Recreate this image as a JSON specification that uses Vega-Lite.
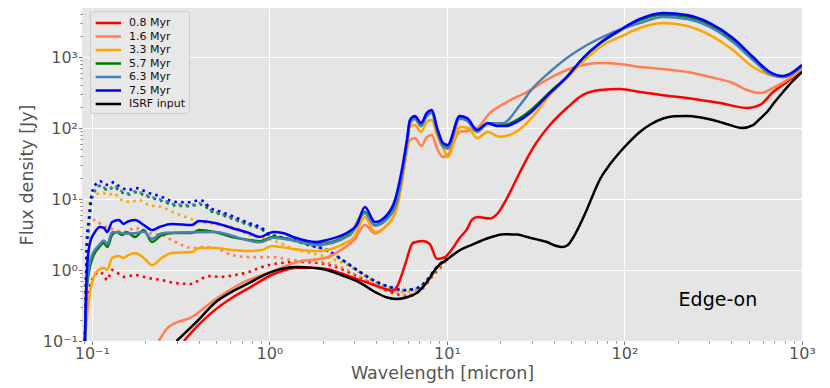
{
"$schema":"https://vega.github.io/schema/vega-lite/v6.json",
"width":720,"height":333,
"autosize":{"type":"none"},
"padding":{"left":82,"top":8,"right":28,"bottom":47},
"background":"white",
"config":{"view":{"fill":"#E5E5E5","stroke":null},"font":"DejaVu Sans"},
"datasets":{
"solid":[
{"s":"0.8 Myr","x":0.33,"y":0.1},{"s":"0.8 Myr","x":0.40,"y":0.17},{"s":"0.8 Myr","x":0.49,"y":0.27},{"s":"0.8 Myr","x":0.62,"y":0.41},{"s":"0.8 Myr","x":0.77,"y":0.56},{"s":"0.8 Myr","x":1.03,"y":0.85},{"s":"0.8 Myr","x":1.2,"y":0.98},{"s":"0.8 Myr","x":1.43,"y":1.08},{"s":"0.8 Myr","x":1.7,"y":1.08},{"s":"0.8 Myr","x":2.1,"y":1.03},{"s":"0.8 Myr","x":2.6,"y":0.88},{"s":"0.8 Myr","x":3.24,"y":0.72},{"s":"0.8 Myr","x":4.0,"y":0.6},{"s":"0.8 Myr","x":4.6,"y":0.53},{"s":"0.8 Myr","x":4.9,"y":0.51},{"s":"0.8 Myr","x":5.23,"y":0.58},{"s":"0.8 Myr","x":5.8,"y":1.17},{"s":"0.8 Myr","x":6.43,"y":2.4},{"s":"0.8 Myr","x":7.33,"y":2.56},{"s":"0.8 Myr","x":8.0,"y":2.32},{"s":"0.8 Myr","x":8.8,"y":1.43},{"s":"0.8 Myr","x":9.75,"y":1.52},{"s":"0.8 Myr","x":10.5,"y":1.85},{"s":"0.8 Myr","x":11.8,"y":2.83},{"s":"0.8 Myr","x":13,"y":3.8},{"s":"0.8 Myr","x":13.8,"y":5.06},{"s":"0.8 Myr","x":14.8,"y":5.6},{"s":"0.8 Myr","x":17.5,"y":5.3},{"s":"0.8 Myr","x":19.4,"y":6.35},{"s":"0.8 Myr","x":21.8,"y":10.3},{"s":"0.8 Myr","x":25.8,"y":24},{"s":"0.8 Myr","x":30.5,"y":52},{"s":"0.8 Myr","x":38,"y":110},{"s":"0.8 Myr","x":47.4,"y":191},{"s":"0.8 Myr","x":58.4,"y":292},{"s":"0.8 Myr","x":72.8,"y":343},{"s":"0.8 Myr","x":94.4,"y":354},{"s":"0.8 Myr","x":122,"y":321},{"s":"0.8 Myr","x":165,"y":290},{"s":"0.8 Myr","x":225,"y":265},{"s":"0.8 Myr","x":345,"y":225},{"s":"0.8 Myr","x":497,"y":191},{"s":"0.8 Myr","x":580,"y":211},{"s":"0.8 Myr","x":687,"y":321},{"s":"0.8 Myr","x":823,"y":445},{"s":"0.8 Myr","x":1000,"y":656},
{"s":"1.6 Myr","x":0.238,"y":0.1},{"s":"1.6 Myr","x":0.27,"y":0.157},{"s":"1.6 Myr","x":0.366,"y":0.218},{"s":"1.6 Myr","x":0.49,"y":0.378},{"s":"1.6 Myr","x":0.70,"y":0.656},{"s":"1.6 Myr","x":1.03,"y":0.95},{"s":"1.6 Myr","x":1.4,"y":1.28},{"s":"1.6 Myr","x":2.1,"y":1.5},{"s":"1.6 Myr","x":2.6,"y":2.0},{"s":"1.6 Myr","x":3.0,"y":2.65},{"s":"1.6 Myr","x":3.45,"y":4.3},{"s":"1.6 Myr","x":3.93,"y":3.3},{"s":"1.6 Myr","x":4.47,"y":4.0},{"s":"1.6 Myr","x":5.1,"y":6.4},{"s":"1.6 Myr","x":5.6,"y":20},{"s":"1.6 Myr","x":6.19,"y":68},{"s":"1.6 Myr","x":6.6,"y":72},{"s":"1.6 Myr","x":7.2,"y":56},{"s":"1.6 Myr","x":7.71,"y":75},{"s":"1.6 Myr","x":8.23,"y":80},{"s":"1.6 Myr","x":8.78,"y":52},{"s":"1.6 Myr","x":9.5,"y":39},{"s":"1.6 Myr","x":10.1,"y":42},{"s":"1.6 Myr","x":11.8,"y":88},{"s":"1.6 Myr","x":13,"y":91},{"s":"1.6 Myr","x":14.8,"y":100},{"s":"1.6 Myr","x":17.5,"y":163},{"s":"1.6 Myr","x":21.8,"y":232},{"s":"1.6 Myr","x":28.2,"y":321},{"s":"1.6 Myr","x":36.4,"y":474},{"s":"1.6 Myr","x":47.4,"y":656},{"s":"1.6 Myr","x":58.4,"y":771},{"s":"1.6 Myr","x":72.8,"y":822},{"s":"1.6 Myr","x":94.4,"y":796},{"s":"1.6 Myr","x":122,"y":723},{"s":"1.6 Myr","x":144,"y":700},{"s":"1.6 Myr","x":225,"y":615},{"s":"1.6 Myr","x":303,"y":523},{"s":"1.6 Myr","x":408,"y":430},{"s":"1.6 Myr","x":490,"y":343},{"s":"1.6 Myr","x":580,"y":311},{"s":"1.6 Myr","x":687,"y":366},{"s":"1.6 Myr","x":823,"y":474},{"s":"1.6 Myr","x":1000,"y":656},
{"s":"3.3 Myr","x":0.0914,"y":0.1},{"s":"3.3 Myr","x":0.0962,"y":0.378},{"s":"3.3 Myr","x":0.1026,"y":0.80},{"s":"3.3 Myr","x":0.109,"y":1.0},{"s":"3.3 Myr","x":0.117,"y":1.07},{"s":"3.3 Myr","x":0.122,"y":1.0},{"s":"3.3 Myr","x":0.130,"y":1.48},{"s":"3.3 Myr","x":0.142,"y":1.57},{"s":"3.3 Myr","x":0.151,"y":1.48},{"s":"3.3 Myr","x":0.157,"y":1.57},{"s":"3.3 Myr","x":0.175,"y":1.74},{"s":"3.3 Myr","x":0.196,"y":1.48},{"s":"3.3 Myr","x":0.218,"y":1.17},{"s":"3.3 Myr","x":0.248,"y":1.48},{"s":"3.3 Myr","x":0.282,"y":1.74},{"s":"3.3 Myr","x":0.366,"y":1.79},{"s":"3.3 Myr","x":0.401,"y":2.04},{"s":"3.3 Myr","x":0.493,"y":2.04},{"s":"3.3 Myr","x":0.615,"y":1.91},{"s":"3.3 Myr","x":0.767,"y":1.85},{"s":"3.3 Myr","x":0.908,"y":1.91},{"s":"3.3 Myr","x":1.03,"y":2.18},{"s":"3.3 Myr","x":1.36,"y":1.98},{"s":"3.3 Myr","x":1.85,"y":1.85},{"s":"3.3 Myr","x":2.6,"y":2.32},{"s":"3.3 Myr","x":3.0,"y":2.92},{"s":"3.3 Myr","x":3.45,"y":5.57},{"s":"3.3 Myr","x":3.93,"y":3.43},{"s":"3.3 Myr","x":4.6,"y":4.3},{"s":"3.3 Myr","x":5.23,"y":7.5},{"s":"3.3 Myr","x":5.95,"y":49},{"s":"3.3 Myr","x":6.19,"y":103},{"s":"3.3 Myr","x":6.6,"y":110},{"s":"3.3 Myr","x":7.14,"y":88},{"s":"3.3 Myr","x":7.71,"y":122},{"s":"3.3 Myr","x":8.23,"y":130},{"s":"3.3 Myr","x":8.78,"y":80},{"s":"3.3 Myr","x":9.75,"y":46},{"s":"3.3 Myr","x":10.1,"y":39},{"s":"3.3 Myr","x":11.8,"y":103},{"s":"3.3 Myr","x":13.2,"y":100},{"s":"3.3 Myr","x":14.8,"y":72},{"s":"3.3 Myr","x":17,"y":88},{"s":"3.3 Myr","x":19.8,"y":75},{"s":"3.3 Myr","x":24.8,"y":90},{"s":"3.3 Myr","x":30.5,"y":145},{"s":"3.3 Myr","x":38,"y":292},{"s":"3.3 Myr","x":47.4,"y":506},{"s":"3.3 Myr","x":61.5,"y":968},{"s":"3.3 Myr","x":79.4,"y":1574},{"s":"3.3 Myr","x":94.4,"y":1914},{"s":"3.3 Myr","x":122,"y":2560},{"s":"3.3 Myr","x":165,"y":3010},{"s":"3.3 Myr","x":225,"y":2730},{"s":"3.3 Myr","x":303,"y":2040},{"s":"3.3 Myr","x":408,"y":1255},{"s":"3.3 Myr","x":530,"y":723},{"s":"3.3 Myr","x":660,"y":557},{"s":"3.3 Myr","x":782,"y":522},{"s":"3.3 Myr","x":1000,"y":700},
{"s":"5.7 Myr","x":0.0914,"y":0.1},{"s":"5.7 Myr","x":0.0938,"y":0.577},{"s":"5.7 Myr","x":0.1,"y":1.38},{"s":"5.7 Myr","x":0.109,"y":2.04},{"s":"5.7 Myr","x":0.117,"y":2.4},{"s":"5.7 Myr","x":0.122,"y":2.11},{"s":"5.7 Myr","x":0.130,"y":3.11},{"s":"5.7 Myr","x":0.138,"y":3.43},{"s":"5.7 Myr","x":0.148,"y":3.11},{"s":"5.7 Myr","x":0.157,"y":3.43},{"s":"5.7 Myr","x":0.175,"y":2.92},{"s":"5.7 Myr","x":0.196,"y":3.66},{"s":"5.7 Myr","x":0.218,"y":2.48},{"s":"5.7 Myr","x":0.248,"y":3.11},{"s":"5.7 Myr","x":0.294,"y":3.32},{"s":"5.7 Myr","x":0.366,"y":3.32},{"s":"5.7 Myr","x":0.401,"y":3.66},{"s":"5.7 Myr","x":0.493,"y":3.43},{"s":"5.7 Myr","x":0.615,"y":2.92},{"s":"5.7 Myr","x":0.767,"y":2.65},{"s":"5.7 Myr","x":0.884,"y":2.55},{"s":"5.7 Myr","x":1.05,"y":2.92},{"s":"5.7 Myr","x":1.36,"y":2.65},{"s":"5.7 Myr","x":1.85,"y":2.32},{"s":"5.7 Myr","x":2.84,"y":3.22},{"s":"5.7 Myr","x":3.45,"y":6.56},{"s":"5.7 Myr","x":3.93,"y":4.3},{"s":"5.7 Myr","x":4.6,"y":5.4},{"s":"5.7 Myr","x":5.23,"y":9.7},{"s":"5.7 Myr","x":5.95,"y":62},{"s":"5.7 Myr","x":6.19,"y":122},{"s":"5.7 Myr","x":6.6,"y":138},{"s":"5.7 Myr","x":7.14,"y":110},{"s":"5.7 Myr","x":7.71,"y":152},{"s":"5.7 Myr","x":8.23,"y":168},{"s":"5.7 Myr","x":8.78,"y":96},{"s":"5.7 Myr","x":9.5,"y":57},{"s":"5.7 Myr","x":10.1,"y":53},{"s":"5.7 Myr","x":11.8,"y":140},{"s":"5.7 Myr","x":13,"y":130},{"s":"5.7 Myr","x":14.8,"y":90},{"s":"5.7 Myr","x":17,"y":115},{"s":"5.7 Myr","x":19.1,"y":108},{"s":"5.7 Myr","x":21.8,"y":112},{"s":"5.7 Myr","x":24.8,"y":130},{"s":"5.7 Myr","x":29.4,"y":175},{"s":"5.7 Myr","x":38,"y":320},{"s":"5.7 Myr","x":47.4,"y":530},{"s":"5.7 Myr","x":58.4,"y":960},{"s":"5.7 Myr","x":72.8,"y":1550},{"s":"5.7 Myr","x":94.4,"y":2350},{"s":"5.7 Myr","x":122,"y":3300},{"s":"5.7 Myr","x":165,"y":3950},{"s":"5.7 Myr","x":225,"y":3700},{"s":"5.7 Myr","x":303,"y":2850},{"s":"5.7 Myr","x":408,"y":1750},{"s":"5.7 Myr","x":530,"y":950},{"s":"5.7 Myr","x":660,"y":590},{"s":"5.7 Myr","x":782,"y":530},{"s":"5.7 Myr","x":1000,"y":760},
{"s":"6.3 Myr","x":0.0914,"y":0.1},{"s":"6.3 Myr","x":0.0938,"y":0.68},{"s":"6.3 Myr","x":0.1,"y":1.6},{"s":"6.3 Myr","x":0.109,"y":2.2},{"s":"6.3 Myr","x":0.117,"y":2.6},{"s":"6.3 Myr","x":0.122,"y":2.3},{"s":"6.3 Myr","x":0.130,"y":3.4},{"s":"6.3 Myr","x":0.142,"y":3.4},{"s":"6.3 Myr","x":0.151,"y":3.25},{"s":"6.3 Myr","x":0.175,"y":3.3},{"s":"6.3 Myr","x":0.196,"y":3.45},{"s":"6.3 Myr","x":0.218,"y":2.75},{"s":"6.3 Myr","x":0.248,"y":3.3},{"s":"6.3 Myr","x":0.366,"y":3.4},{"s":"6.3 Myr","x":0.493,"y":3.43},{"s":"6.3 Myr","x":0.767,"y":2.6},{"s":"6.3 Myr","x":0.884,"y":2.45},{"s":"6.3 Myr","x":1.05,"y":2.85},{"s":"6.3 Myr","x":1.36,"y":2.6},{"s":"6.3 Myr","x":1.85,"y":2.25},{"s":"6.3 Myr","x":2.84,"y":3.1},{"s":"6.3 Myr","x":3.45,"y":6.3},{"s":"6.3 Myr","x":3.93,"y":4.2},{"s":"6.3 Myr","x":4.6,"y":5.2},{"s":"6.3 Myr","x":5.23,"y":9.3},{"s":"6.3 Myr","x":5.95,"y":60},{"s":"6.3 Myr","x":6.19,"y":118},{"s":"6.3 Myr","x":6.6,"y":134},{"s":"6.3 Myr","x":7.14,"y":106},{"s":"6.3 Myr","x":7.71,"y":148},{"s":"6.3 Myr","x":8.23,"y":163},{"s":"6.3 Myr","x":8.78,"y":92},{"s":"6.3 Myr","x":9.5,"y":55},{"s":"6.3 Myr","x":10.1,"y":51},{"s":"6.3 Myr","x":11.8,"y":135},{"s":"6.3 Myr","x":13,"y":126},{"s":"6.3 Myr","x":14.8,"y":88},{"s":"6.3 Myr","x":17,"y":117},{"s":"6.3 Myr","x":20.6,"y":117},{"s":"6.3 Myr","x":25.8,"y":211},{"s":"6.3 Myr","x":30.5,"y":366},{"s":"6.3 Myr","x":38,"y":615},{"s":"6.3 Myr","x":47.4,"y":968},{"s":"6.3 Myr","x":61.5,"y":1475},{"s":"6.3 Myr","x":79.4,"y":2040},{"s":"6.3 Myr","x":122,"y":3010},{"s":"6.3 Myr","x":165,"y":3660},{"s":"6.3 Myr","x":225,"y":3430},{"s":"6.3 Myr","x":303,"y":2650},{"s":"6.3 Myr","x":408,"y":1625},{"s":"6.3 Myr","x":530,"y":907},{"s":"6.3 Myr","x":660,"y":575},{"s":"6.3 Myr","x":782,"y":522},{"s":"6.3 Myr","x":1000,"y":750},
{"s":"7.5 Myr","x":0.0914,"y":0.1},{"s":"7.5 Myr","x":0.0938,"y":1.0},{"s":"7.5 Myr","x":0.0975,"y":2.4},{"s":"7.5 Myr","x":0.104,"y":3.43},{"s":"7.5 Myr","x":0.111,"y":4.04},{"s":"7.5 Myr","x":0.117,"y":3.91},{"s":"7.5 Myr","x":0.122,"y":3.43},{"s":"7.5 Myr","x":0.130,"y":4.74},{"s":"7.5 Myr","x":0.142,"y":5.06},{"s":"7.5 Myr","x":0.151,"y":4.45},{"s":"7.5 Myr","x":0.157,"y":4.74},{"s":"7.5 Myr","x":0.175,"y":5.06},{"s":"7.5 Myr","x":0.196,"y":4.3},{"s":"7.5 Myr","x":0.218,"y":3.66},{"s":"7.5 Myr","x":0.241,"y":4.04},{"s":"7.5 Myr","x":0.282,"y":4.45},{"s":"7.5 Myr","x":0.366,"y":4.3},{"s":"7.5 Myr","x":0.401,"y":4.9},{"s":"7.5 Myr","x":0.493,"y":4.59},{"s":"7.5 Myr","x":0.615,"y":3.91},{"s":"7.5 Myr","x":0.767,"y":3.32},{"s":"7.5 Myr","x":0.884,"y":2.92},{"s":"7.5 Myr","x":1.05,"y":3.43},{"s":"7.5 Myr","x":1.19,"y":3.32},{"s":"7.5 Myr","x":1.36,"y":2.92},{"s":"7.5 Myr","x":1.85,"y":2.48},{"s":"7.5 Myr","x":2.11,"y":2.65},{"s":"7.5 Myr","x":2.84,"y":3.54},{"s":"7.5 Myr","x":3.11,"y":4.3},{"s":"7.5 Myr","x":3.45,"y":7.7},{"s":"7.5 Myr","x":3.93,"y":4.74},{"s":"7.5 Myr","x":4.47,"y":5.57},{"s":"7.5 Myr","x":5.1,"y":9.7},{"s":"7.5 Myr","x":5.43,"y":18.5},{"s":"7.5 Myr","x":5.95,"y":68},{"s":"7.5 Myr","x":6.19,"y":130},{"s":"7.5 Myr","x":6.6,"y":148},{"s":"7.5 Myr","x":7.14,"y":118},{"s":"7.5 Myr","x":7.71,"y":163},{"s":"7.5 Myr","x":8.23,"y":179},{"s":"7.5 Myr","x":8.78,"y":103},{"s":"7.5 Myr","x":9.5,"y":61.5},{"s":"7.5 Myr","x":10.1,"y":57.7},{"s":"7.5 Myr","x":11.8,"y":148},{"s":"7.5 Myr","x":13,"y":138},{"s":"7.5 Myr","x":14.8,"y":94},{"s":"7.5 Myr","x":17,"y":118},{"s":"7.5 Myr","x":19.1,"y":107},{"s":"7.5 Myr","x":21.8,"y":107},{"s":"7.5 Myr","x":24.8,"y":122},{"s":"7.5 Myr","x":29.4,"y":163},{"s":"7.5 Myr","x":38,"y":311},{"s":"7.5 Myr","x":47.4,"y":523},{"s":"7.5 Myr","x":58.4,"y":968},{"s":"7.5 Myr","x":72.8,"y":1574},{"s":"7.5 Myr","x":94.4,"y":2400},{"s":"7.5 Myr","x":122,"y":3430},{"s":"7.5 Myr","x":165,"y":4170},{"s":"7.5 Myr","x":225,"y":3910},{"s":"7.5 Myr","x":303,"y":3010},{"s":"7.5 Myr","x":408,"y":1850},{"s":"7.5 Myr","x":530,"y":1000},{"s":"7.5 Myr","x":660,"y":615},{"s":"7.5 Myr","x":782,"y":540},{"s":"7.5 Myr","x":890,"y":615},{"s":"7.5 Myr","x":1000,"y":771},
{"s":"ISRF input","x":0.30,"y":0.1},{"s":"ISRF input","x":0.40,"y":0.2},{"s":"ISRF input","x":0.49,"y":0.34},{"s":"ISRF input","x":0.62,"y":0.5},{"s":"ISRF input","x":0.77,"y":0.66},{"s":"ISRF input","x":1.03,"y":0.94},{"s":"ISRF input","x":1.2,"y":1.05},{"s":"ISRF input","x":1.43,"y":1.10},{"s":"ISRF input","x":1.7,"y":1.08},{"s":"ISRF input","x":2.1,"y":1.0},{"s":"ISRF input","x":2.6,"y":0.83},{"s":"ISRF input","x":3.24,"y":0.66},{"s":"ISRF input","x":4.0,"y":0.48},{"s":"ISRF input","x":4.6,"y":0.41},{"s":"ISRF input","x":5.2,"y":0.39},{"s":"ISRF input","x":5.9,"y":0.41},{"s":"ISRF input","x":6.8,"y":0.48},{"s":"ISRF input","x":7.8,"y":0.7},{"s":"ISRF input","x":8.8,"y":1.1},{"s":"ISRF input","x":10,"y":1.4},{"s":"ISRF input","x":11.8,"y":1.9},{"s":"ISRF input","x":14,"y":2.3},{"s":"ISRF input","x":17,"y":2.8},{"s":"ISRF input","x":21,"y":3.2},{"s":"ISRF input","x":25,"y":3.15},{"s":"ISRF input","x":28.3,"y":2.92},{"s":"ISRF input","x":32,"y":2.7},{"s":"ISRF input","x":36.6,"y":2.48},{"s":"ISRF input","x":41,"y":2.2},{"s":"ISRF input","x":44.4,"y":2.1},{"s":"ISRF input","x":48,"y":2.25},{"s":"ISRF input","x":52,"y":3.0},{"s":"ISRF input","x":56,"y":4.3},{"s":"ISRF input","x":61.5,"y":7.2},{"s":"ISRF input","x":67,"y":12},{"s":"ISRF input","x":72.8,"y":19},{"s":"ISRF input","x":83,"y":31},{"s":"ISRF input","x":94.4,"y":46},{"s":"ISRF input","x":108,"y":66},{"s":"ISRF input","x":122,"y":88},{"s":"ISRF input","x":140,"y":112},{"s":"ISRF input","x":165,"y":136},{"s":"ISRF input","x":190,"y":146},{"s":"ISRF input","x":225,"y":148},{"s":"ISRF input","x":265,"y":142},{"s":"ISRF input","x":315,"y":130},{"s":"ISRF input","x":380,"y":113},{"s":"ISRF input","x":459,"y":100},{"s":"ISRF input","x":530,"y":110},{"s":"ISRF input","x":580,"y":135},{"s":"ISRF input","x":635,"y":168},{"s":"ISRF input","x":700,"y":230},{"s":"ISRF input","x":782,"y":321},{"s":"ISRF input","x":880,"y":450},{"s":"ISRF input","x":1000,"y":615}
],
"dotted":[
{"s":"0.8 Myr","x":0.0914,"y":0.1},{"s":"0.8 Myr","x":0.0938,"y":0.27},{"s":"0.8 Myr","x":0.0975,"y":0.58},{"s":"0.8 Myr","x":0.1026,"y":0.80},{"s":"0.8 Myr","x":0.109,"y":0.94},{"s":"0.8 Myr","x":0.117,"y":0.85},{"s":"0.8 Myr","x":0.122,"y":0.72},{"s":"0.8 Myr","x":0.130,"y":1.0},{"s":"0.8 Myr","x":0.153,"y":0.80},{"s":"0.8 Myr","x":0.175,"y":0.85},{"s":"0.8 Myr","x":0.209,"y":0.77},{"s":"0.8 Myr","x":0.248,"y":0.72},{"s":"0.8 Myr","x":0.294,"y":0.656},{"s":"0.8 Myr","x":0.366,"y":0.635},{"s":"0.8 Myr","x":0.401,"y":0.72},{"s":"0.8 Myr","x":0.456,"y":0.82},{"s":"0.8 Myr","x":0.539,"y":0.80},{"s":"0.8 Myr","x":0.639,"y":0.85},{"s":"0.8 Myr","x":0.767,"y":0.94},{"s":"0.8 Myr","x":0.908,"y":1.10},{"s":"0.8 Myr","x":1.03,"y":1.2},{"s":"0.8 Myr","x":1.5,"y":1.3},{"s":"0.8 Myr","x":2.1,"y":1.2},{"s":"0.8 Myr","x":3.24,"y":0.78},{"s":"0.8 Myr","x":4.0,"y":0.6},{"s":"0.8 Myr","x":5.0,"y":0.47},{"s":"0.8 Myr","x":6.0,"y":0.43},{"s":"0.8 Myr","x":7.0,"y":0.5},{"s":"0.8 Myr","x":8.4,"y":0.85},{"s":"0.8 Myr","x":10,"y":1.4},
{"s":"1.6 Myr","x":0.0914,"y":0.1},{"s":"1.6 Myr","x":0.0925,"y":0.38},{"s":"1.6 Myr","x":0.095,"y":1.91},{"s":"1.6 Myr","x":0.0975,"y":4.74},{"s":"1.6 Myr","x":0.104,"y":5.06},{"s":"1.6 Myr","x":0.114,"y":4.3},{"s":"1.6 Myr","x":0.125,"y":3.91},{"s":"1.6 Myr","x":0.135,"y":3.66},{"s":"1.6 Myr","x":0.153,"y":3.43},{"s":"1.6 Myr","x":0.175,"y":3.91},{"s":"1.6 Myr","x":0.209,"y":3.32},{"s":"1.6 Myr","x":0.248,"y":3.11},{"s":"1.6 Myr","x":0.282,"y":2.65},{"s":"1.6 Myr","x":0.321,"y":2.25},{"s":"1.6 Myr","x":0.366,"y":2.04},{"s":"1.6 Myr","x":0.432,"y":2.1},{"s":"1.6 Myr","x":0.493,"y":2.04},{"s":"1.6 Myr","x":0.615,"y":1.63},{"s":"1.6 Myr","x":0.767,"y":1.52},{"s":"1.6 Myr","x":1.03,"y":1.52},{"s":"1.6 Myr","x":1.36,"y":1.38},{"s":"1.6 Myr","x":2.11,"y":1.26},{"s":"1.6 Myr","x":3.24,"y":0.80},{"s":"1.6 Myr","x":4.0,"y":0.6},{"s":"1.6 Myr","x":5.0,"y":0.49},{"s":"1.6 Myr","x":5.95,"y":0.445},{"s":"1.6 Myr","x":7.03,"y":0.52},{"s":"1.6 Myr","x":8.4,"y":0.91},{"s":"1.6 Myr","x":10,"y":1.42},
{"s":"3.3 Myr","x":0.0914,"y":0.1},{"s":"3.3 Myr","x":0.0925,"y":0.38},{"s":"3.3 Myr","x":0.095,"y":2.65},{"s":"3.3 Myr","x":0.0975,"y":8.8},{"s":"3.3 Myr","x":0.104,"y":11.4},{"s":"3.3 Myr","x":0.114,"y":12.2},{"s":"3.3 Myr","x":0.125,"y":11.4},{"s":"3.3 Myr","x":0.133,"y":12.2},{"s":"3.3 Myr","x":0.142,"y":10.3},{"s":"3.3 Myr","x":0.162,"y":9.1},{"s":"3.3 Myr","x":0.184,"y":9.7},{"s":"3.3 Myr","x":0.209,"y":8.2},{"s":"3.3 Myr","x":0.248,"y":7.7},{"s":"3.3 Myr","x":0.294,"y":6.35},{"s":"3.3 Myr","x":0.35,"y":5.4},{"s":"3.3 Myr","x":0.417,"y":4.74},{"s":"3.3 Myr","x":0.539,"y":4.3},{"s":"3.3 Myr","x":0.639,"y":3.91},{"s":"3.3 Myr","x":0.767,"y":3.11},{"s":"3.3 Myr","x":0.908,"y":2.83},{"s":"3.3 Myr","x":1.03,"y":2.65},{"s":"3.3 Myr","x":1.36,"y":2.0},{"s":"3.3 Myr","x":2.11,"y":1.52},{"s":"3.3 Myr","x":2.59,"y":1.26},{"s":"3.3 Myr","x":3.24,"y":0.91},{"s":"3.3 Myr","x":4.03,"y":0.656},{"s":"3.3 Myr","x":5.0,"y":0.52},{"s":"3.3 Myr","x":5.64,"y":0.49},{"s":"3.3 Myr","x":6.78,"y":0.52},{"s":"3.3 Myr","x":7.71,"y":0.66},{"s":"3.3 Myr","x":8.78,"y":1.05},{"s":"3.3 Myr","x":10,"y":1.42},
{"s":"5.7 Myr","x":0.0914,"y":0.1},{"s":"5.7 Myr","x":0.0925,"y":0.45},{"s":"5.7 Myr","x":0.0938,"y":2.2},{"s":"5.7 Myr","x":0.0962,"y":4.3},{"s":"5.7 Myr","x":0.1,"y":10.3},{"s":"5.7 Myr","x":0.1067,"y":14.0},{"s":"5.7 Myr","x":0.111,"y":15.2},{"s":"5.7 Myr","x":0.117,"y":14.0},{"s":"5.7 Myr","x":0.125,"y":13.4},{"s":"5.7 Myr","x":0.133,"y":15.0},{"s":"5.7 Myr","x":0.142,"y":13.2},{"s":"5.7 Myr","x":0.162,"y":11.6},{"s":"5.7 Myr","x":0.175,"y":12.4},{"s":"5.7 Myr","x":0.209,"y":10.7},{"s":"5.7 Myr","x":0.248,"y":9.4},{"s":"5.7 Myr","x":0.294,"y":8.1},{"s":"5.7 Myr","x":0.36,"y":7.9},{"s":"5.7 Myr","x":0.4,"y":8.4},{"s":"5.7 Myr","x":0.43,"y":8.2},{"s":"5.7 Myr","x":0.456,"y":7.0},{"s":"5.7 Myr","x":0.539,"y":6.0},{"s":"5.7 Myr","x":0.639,"y":5.1},{"s":"5.7 Myr","x":0.767,"y":4.3},{"s":"5.7 Myr","x":0.908,"y":3.7},{"s":"5.7 Myr","x":1.0,"y":3.1},{"s":"5.7 Myr","x":1.15,"y":2.88},{"s":"5.7 Myr","x":1.36,"y":2.6},{"s":"5.7 Myr","x":1.69,"y":2.22},{"s":"5.7 Myr","x":2.11,"y":1.88},{"s":"5.7 Myr","x":2.59,"y":1.36},{"s":"5.7 Myr","x":3.24,"y":0.93},{"s":"5.7 Myr","x":4.03,"y":0.67},{"s":"5.7 Myr","x":5.0,"y":0.55},{"s":"5.7 Myr","x":5.64,"y":0.515},{"s":"5.7 Myr","x":6.78,"y":0.55},{"s":"5.7 Myr","x":7.71,"y":0.71},{"s":"5.7 Myr","x":8.78,"y":1.1},{"s":"5.7 Myr","x":10,"y":1.45},
{"s":"6.3 Myr","x":0.0914,"y":0.1},{"s":"6.3 Myr","x":0.0925,"y":0.47},{"s":"6.3 Myr","x":0.0938,"y":2.3},{"s":"6.3 Myr","x":0.0962,"y":4.5},{"s":"6.3 Myr","x":0.1,"y":10.8},{"s":"6.3 Myr","x":0.1067,"y":14.6},{"s":"6.3 Myr","x":0.111,"y":15.8},{"s":"6.3 Myr","x":0.117,"y":14.5},{"s":"6.3 Myr","x":0.125,"y":13.9},{"s":"6.3 Myr","x":0.133,"y":15.5},{"s":"6.3 Myr","x":0.142,"y":13.6},{"s":"6.3 Myr","x":0.162,"y":12.0},{"s":"6.3 Myr","x":0.175,"y":12.8},{"s":"6.3 Myr","x":0.209,"y":11.0},{"s":"6.3 Myr","x":0.248,"y":9.7},{"s":"6.3 Myr","x":0.294,"y":8.4},{"s":"6.3 Myr","x":0.36,"y":8.2},{"s":"6.3 Myr","x":0.4,"y":8.7},{"s":"6.3 Myr","x":0.43,"y":8.5},{"s":"6.3 Myr","x":0.456,"y":7.2},{"s":"6.3 Myr","x":0.539,"y":6.2},{"s":"6.3 Myr","x":0.639,"y":5.2},{"s":"6.3 Myr","x":0.767,"y":4.4},{"s":"6.3 Myr","x":0.908,"y":3.75},{"s":"6.3 Myr","x":1.0,"y":3.12},{"s":"6.3 Myr","x":1.15,"y":2.9},{"s":"6.3 Myr","x":1.36,"y":2.62},{"s":"6.3 Myr","x":1.69,"y":2.23},{"s":"6.3 Myr","x":2.11,"y":1.89},{"s":"6.3 Myr","x":2.59,"y":1.37},{"s":"6.3 Myr","x":3.24,"y":0.935},{"s":"6.3 Myr","x":4.03,"y":0.675},{"s":"6.3 Myr","x":5.0,"y":0.553},{"s":"6.3 Myr","x":5.64,"y":0.518},{"s":"6.3 Myr","x":6.78,"y":0.553},{"s":"6.3 Myr","x":7.71,"y":0.715},{"s":"6.3 Myr","x":8.78,"y":1.1},{"s":"6.3 Myr","x":10,"y":1.45},
{"s":"7.5 Myr","x":0.0914,"y":0.1},{"s":"7.5 Myr","x":0.0925,"y":0.52},{"s":"7.5 Myr","x":0.0938,"y":2.65},{"s":"7.5 Myr","x":0.0962,"y":5.06},{"s":"7.5 Myr","x":0.1,"y":12.2},{"s":"7.5 Myr","x":0.1067,"y":16.8},{"s":"7.5 Myr","x":0.111,"y":17.9},{"s":"7.5 Myr","x":0.117,"y":16.3},{"s":"7.5 Myr","x":0.125,"y":15.7},{"s":"7.5 Myr","x":0.133,"y":17.3},{"s":"7.5 Myr","x":0.142,"y":15.2},{"s":"7.5 Myr","x":0.162,"y":13.4},{"s":"7.5 Myr","x":0.175,"y":14.3},{"s":"7.5 Myr","x":0.209,"y":12.2},{"s":"7.5 Myr","x":0.248,"y":10.7},{"s":"7.5 Myr","x":0.294,"y":9.1},{"s":"7.5 Myr","x":0.36,"y":9.0},{"s":"7.5 Myr","x":0.4,"y":9.6},{"s":"7.5 Myr","x":0.43,"y":9.3},{"s":"7.5 Myr","x":0.456,"y":7.7},{"s":"7.5 Myr","x":0.539,"y":6.56},{"s":"7.5 Myr","x":0.639,"y":5.57},{"s":"7.5 Myr","x":0.767,"y":4.59},{"s":"7.5 Myr","x":0.908,"y":3.91},{"s":"7.5 Myr","x":1.0,"y":3.2},{"s":"7.5 Myr","x":1.15,"y":2.92},{"s":"7.5 Myr","x":1.36,"y":2.65},{"s":"7.5 Myr","x":1.69,"y":2.25},{"s":"7.5 Myr","x":2.11,"y":1.91},{"s":"7.5 Myr","x":2.59,"y":1.38},{"s":"7.5 Myr","x":3.24,"y":0.94},{"s":"7.5 Myr","x":4.03,"y":0.68},{"s":"7.5 Myr","x":5.0,"y":0.557},{"s":"7.5 Myr","x":5.64,"y":0.52},{"s":"7.5 Myr","x":6.78,"y":0.557},{"s":"7.5 Myr","x":7.71,"y":0.72},{"s":"7.5 Myr","x":8.78,"y":1.1},{"s":"7.5 Myr","x":10,"y":1.45}
],
"note":[{"label":"Edge-on","x":336,"y":0.378}]
},
"layer":[
{"data":{"name":"dotted"},
 "mark":{"type":"line","interpolate":"monotone","strokeWidth":2.6,"strokeDash":[2.6,4.2],"clip":true},
 "encoding":{
  "x":{"field":"x","type":"quantitative"},
  "y":{"field":"y","type":"quantitative"},
  "color":{"field":"s","type":"nominal"}
 }},
{"data":{"name":"solid"},
 "mark":{"type":"line","interpolate":"monotone","strokeWidth":2.5,"clip":true},
 "encoding":{
  "x":{"field":"x","type":"quantitative",
   "scale":{"type":"log","domain":[0.088,1000],"nice":false},
   "axis":{"title":"Wavelength [micron]","values":[0.09,0.1,0.2,0.3,0.4,0.5,0.6,0.7,0.8,0.9,1,2,3,4,5,6,7,8,9,10,20,30,40,50,60,70,80,90,100,200,300,400,500,600,700,800,900,1000],
    "labelExpr":"datum.value==0.1?'10⁻¹':datum.value==1?'10⁰':datum.value==10?'10¹':datum.value==100?'10²':datum.value==1000?'10³':''",
    "grid":true,"gridColor":"white","gridWidth":1,
    "gridOpacity":{"condition":{"test":"indexof([0.1,1,10,100,1000],datum.value)>=0","value":1},"value":0},
    "tickSize":{"condition":{"test":"indexof([0.1,1,10,100,1000],datum.value)>=0","value":3.5},"value":2},
    "tickColor":"#555555","tickWidth":0.8,"domain":false,
    "labelColor":"#555555","labelFontSize":16,"labelFlush":false,"labelOverlap":false,"labelPadding":1,
    "titleColor":"#555555","titleFontSize":17.5,"titleFontWeight":"normal","titlePadding":3}},
  "y":{"field":"y","type":"quantitative",
   "scale":{"type":"log","domain":[0.1,4900],"nice":false},
   "axis":{"title":"Flux density [Jy]","values":[0.1,0.2,0.3,0.4,0.5,0.6,0.7,0.8,0.9,1,2,3,4,5,6,7,8,9,10,20,30,40,50,60,70,80,90,100,200,300,400,500,600,700,800,900,1000,2000,3000,4000],
    "labelExpr":"datum.value==0.1?'10⁻¹':datum.value==1?'10⁰':datum.value==10?'10¹':datum.value==100?'10²':datum.value==1000?'10³':''",
    "grid":true,"gridColor":"white","gridWidth":1,
    "gridOpacity":{"condition":{"test":"indexof([0.1,1,10,100,1000],datum.value)>=0","value":1},"value":0},
    "tickSize":{"condition":{"test":"indexof([0.1,1,10,100,1000],datum.value)>=0","value":3.5},"value":2},
    "tickColor":"#555555","tickWidth":0.8,"domain":false,
    "labelColor":"#555555","labelFontSize":16,"labelFlush":false,"labelOverlap":false,"labelPadding":1,
    "titleColor":"#555555","titleFontSize":17.5,"titleFontWeight":"normal","titlePadding":6}},
  "color":{"field":"s","type":"nominal",
   "scale":{"domain":["0.8 Myr","1.6 Myr","3.3 Myr","5.7 Myr","6.3 Myr","7.5 Myr","ISRF input"],
            "range":["#FF0000","#FF7F50","#FFA500","#008000","#4682B4","#0000FF","#000000"]},
   "legend":{"title":null,"orient":"none","legendX":8,"legendY":3,"symbolType":"M-1,0H3","symbolSize":160,"symbolStrokeWidth":2.5,
    "labelFontSize":11,"labelColor":"#111111","fillColor":"#E8E8E8","strokeColor":"#CCCCCC","padding":4,"cornerRadius":3,"rowPadding":0.5,"labelOffset":19}}
 }},
{"data":{"name":"note"},
 "mark":{"type":"text","fontSize":19,"color":"black","align":"center","baseline":"middle"},
 "encoding":{"x":{"field":"x","type":"quantitative"},"y":{"field":"y","type":"quantitative"},"text":{"field":"label"}}}
]
}
